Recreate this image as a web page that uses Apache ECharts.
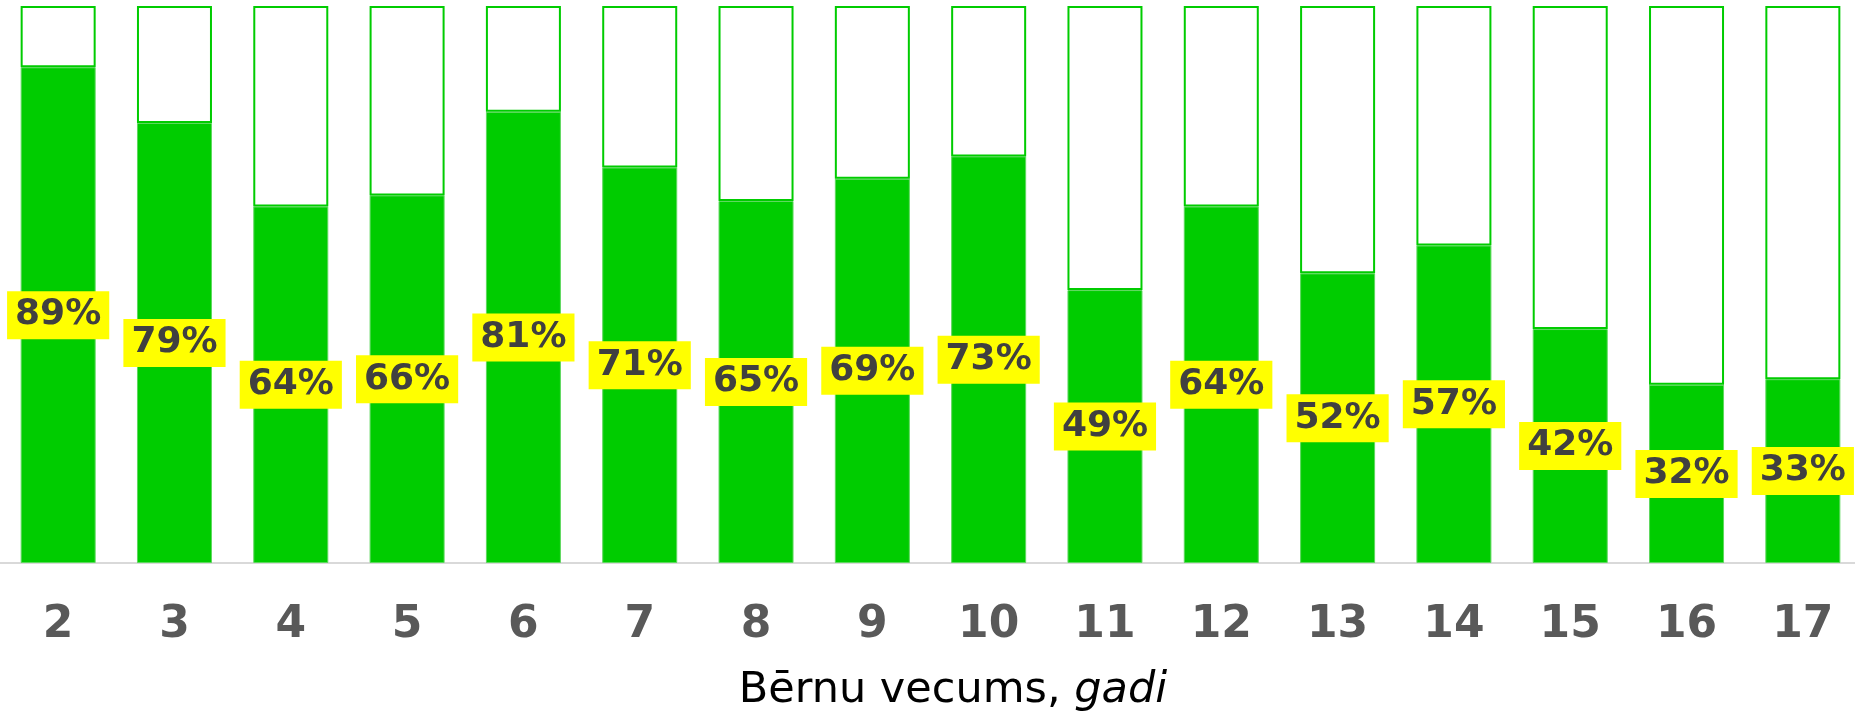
<!DOCTYPE html>
<html>
<head>
<meta charset="utf-8">
<script src="https://cdn.jsdelivr.net/npm/echarts@6/dist/echarts.min.js"></script>
<style>
  html, body { margin: 0; padding: 0; background: #fff; }
  #chart { width: 1855px; height: 711px; }
</style>
</head>
<body>
<div id="chart"></div>
<script>
// vecums (gadi) un daļa procentos
const ages = ['2', '3', '4', '5', '6', '7', '8', '9', '10', '11', '12', '13', '14', '15', '16', '17']
const shares = [89, 79, 64, 66, 81, 71, 65, 69, 73, 49, 64, 52, 57, 42, 32, 33]
const rest = shares.map(v => 100 - v)

const chart = echarts.init(document.getElementById('chart'))

const option = {
  animation: false,
  grid: {
    left: 0,
    right: -6,
    top: 6,
    bottom: 148,
    outerBoundsMode: 'none'
  },
  xAxis: {
    type: 'category',
    data: ages,
    axisTick: { show: false },
    axisLine: {
      lineStyle: { color: '#d9d9d9', width: 2 }
    },
    axisLabel: {
      margin: 41,
      fontFamily: 'DejaVu Sans',
      fontWeight: 'bold',
      fontSize: 44,
      color: '#595959'
    },
    name: '{a|Bērnu vecums, }{b|gadi}',
    nameLocation: 'middle',
    nameGap: 106,
    nameTextStyle: {
      padding: [0, 0, 0, 45],
      rich: {
        a: { fontFamily: 'DejaVu Sans', fontSize: 43, color: '#000' },
        b: { fontFamily: 'DejaVu Sans', fontSize: 43, fontStyle: 'italic', color: '#000' }
      }
    }
  },
  yAxis: {
    type: 'value',
    min: 0,
    max: 100,
    show: false
  },
  series: [
    {
      name: 'daļa',
      type: 'bar',
      stack: 'total',
      barWidth: 75,
      data: shares,
      itemStyle: {
        color: '#00cc00',
        borderColor: '#5ed85e',
        borderWidth: 1
      },
      label: {
        show: true,
        position: 'inside',
        formatter: '{c}%',
        fontFamily: 'DejaVu Sans',
        fontWeight: 'bold',
        fontSize: 36,
        lineHeight: 40,
        color: '#404040',
        backgroundColor: '#ffff00',
        padding: [4, 8, 4, 8]
      }
    },
    {
      name: 'pārējie',
      type: 'bar',
      stack: 'total',
      barWidth: 75,
      data: rest,
      itemStyle: {
        color: '#ffffff',
        borderColor: '#00cc00',
        borderWidth: 2
      }
    }
  ]
}

chart.setOption(option)
</script>
</body>
</html>
